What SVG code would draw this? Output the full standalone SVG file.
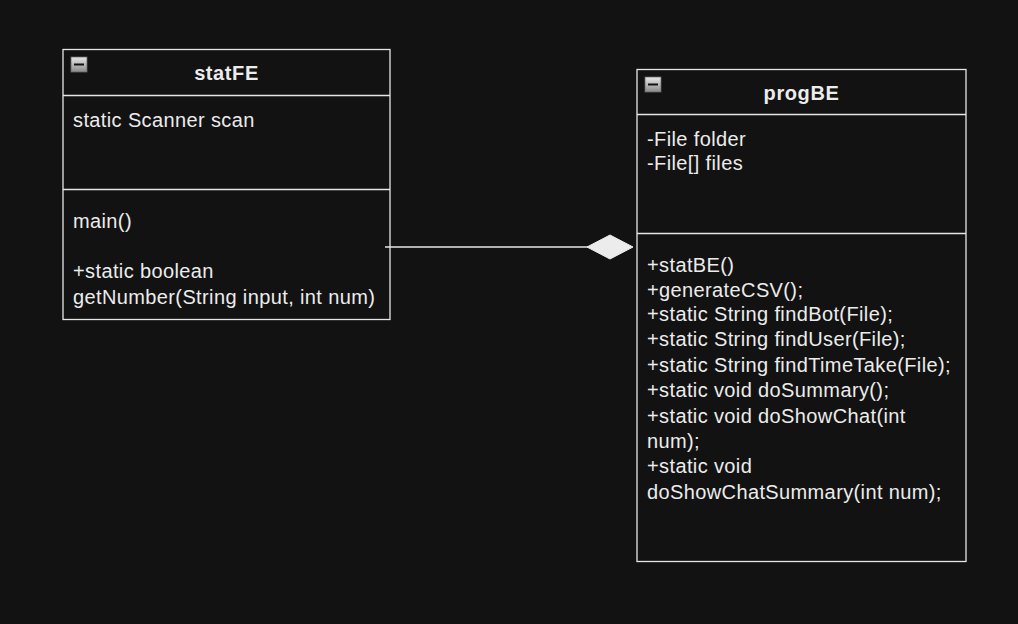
<svg xmlns="http://www.w3.org/2000/svg" width="1018" height="624" viewBox="0 0 1018 624">
<defs>
<linearGradient id="ig" x1="0" y1="0" x2="0" y2="1"><stop offset="0" stop-color="#e8e8e8"/><stop offset="1" stop-color="#8a8a8a"/></linearGradient>
<style>
.box{fill:#121212;stroke:#e6e6e6;stroke-width:1.3}
.t{font-family:"Liberation Sans",Arial,sans-serif;font-size:20px;letter-spacing:0.38px;fill:#ececec}
.h{font-family:"Liberation Sans",Arial,sans-serif;font-size:20px;letter-spacing:0.6px;font-weight:bold;fill:#ececec;text-anchor:middle}
.ln{stroke:#e6e6e6;stroke-width:1.3;fill:none}
</style>
</defs>
<rect width="1018" height="624" fill="#121212"/>
<g id="statFE">
<rect class="box" x="63" y="49.5" width="327" height="270"/>
<line class="ln" x1="63" y1="95.5" x2="390" y2="95.5"/>
<line class="ln" x1="63" y1="189.5" x2="390" y2="189.5"/>
<rect x="71" y="57" width="16" height="15" fill="url(#ig)" stroke="#666" stroke-width="0.8"/>
<line x1="74" y1="64.5" x2="84" y2="64.5" stroke="#111" stroke-width="2"/>
<text class="h" x="226.5" y="80">statFE</text>
<text class="t" x="73" y="127">static Scanner scan</text>
<text class="t" x="73" y="228">main()</text>
<text class="t" x="73" y="278">+static boolean</text>
<text class="t" x="73" y="304">getNumber(String input, int num)</text>
</g>
<g id="progBE">
<rect class="box" x="637" y="69.5" width="329" height="492"/>
<line class="ln" x1="637" y1="114.5" x2="966" y2="114.5"/>
<line class="ln" x1="637" y1="233.5" x2="966" y2="233.5"/>
<rect x="645" y="77" width="16" height="15" fill="url(#ig)" stroke="#666" stroke-width="0.8"/>
<line x1="648" y1="84.5" x2="658" y2="84.5" stroke="#111" stroke-width="2"/>
<text class="h" x="801.5" y="100">progBE</text>
<text class="t" x="647" y="146">-File folder</text>
<text class="t" x="647" y="170">-File[] files</text>
<text class="t" x="647" y="272">+statBE()</text>
<text class="t" x="647" y="297">+generateCSV();</text>
<text class="t" x="647" y="321">+static String findBot(File);</text>
<text class="t" x="647" y="346">+static String findUser(File);</text>
<text class="t" x="647" y="372">+static String findTimeTake(File);</text>
<text class="t" x="647" y="397">+static void doSummary();</text>
<text class="t" x="647" y="423">+static void doShowChat(int</text>
<text class="t" x="647" y="448">num);</text>
<text class="t" x="647" y="473">+static void</text>
<text class="t" x="647" y="499">doShowChatSummary(int num);</text>
</g>
<g id="connectors">
<line class="ln" x1="385" y1="247" x2="588" y2="247"/>
<polygon points="587,247 610,235 633,247 610,259" fill="#ececec" stroke="#ececec" stroke-width="1"/>
</g>
</svg>
